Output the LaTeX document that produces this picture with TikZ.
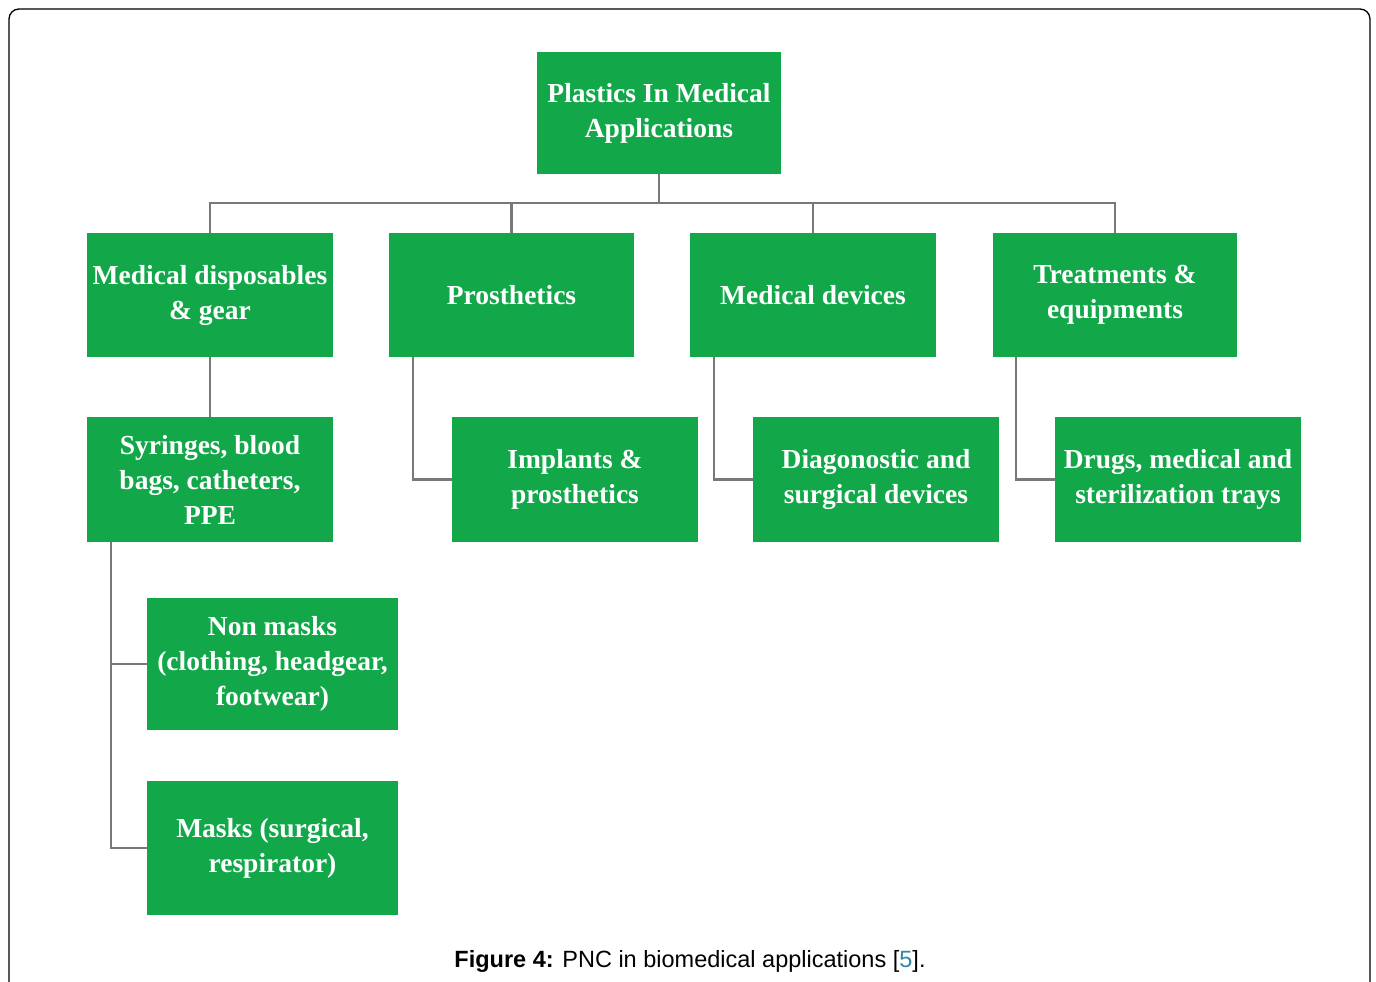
\documentclass[tikz,border=0pt]{standalone}
\usepackage{fontspec}
\setmainfont{Liberation Serif}
\newfontfamily\capfont{Liberation Sans}
\definecolor{boxgreen}{RGB}{18,168,74}
\definecolor{linegray}{RGB}{120,120,120}
\definecolor{reflink}{RGB}{46,134,160}
\begin{document}
\begin{tikzpicture}[x=1pt,y=-1pt,
  gbox/.style={fill=boxgreen,draw=none,text=white,align=center,inner sep=0pt,
    font=\fontsize{27.5}{35}\selectfont\bfseries},
  conn/.style={draw=linegray,line width=2.6pt}]
\useasboundingbox (0,0) rectangle (1376,982);
\draw[line width=1.3pt,rounded corners=10pt] (9,1010) -- (9,9) -- (1370,9) -- (1370,1010);
% nodes
\node[gbox,minimum width=244pt,minimum height=122pt] (top) at (659,113) {Plastics In Medical\\Applications};
\node[gbox,minimum width=246pt,minimum height=124pt] (A) at (210,295) {Medical disposables\\\& gear};
\node[gbox,minimum width=245pt,minimum height=124pt] (B) at (511.5,295) {Prosthetics};
\node[gbox,minimum width=246pt,minimum height=124pt] (C) at (813,295) {Medical devices};
\node[gbox,minimum width=244pt,minimum height=124pt] (D) at (1115,295) {Treatments \&\\equipments};
\node[gbox,minimum width=246pt,minimum height=125pt] (S) at (210,479.5) {Syringes, blood\\bags, catheters,\\PPE};
\node[gbox,minimum width=246pt,minimum height=125pt] (I) at (575,479.5) {Implants \&\\prosthetics};
\node[gbox,minimum width=246pt,minimum height=125pt] (G) at (876,479.5) {Diagonostic and\\surgical devices};
\node[gbox,minimum width=246pt,minimum height=125pt] (R) at (1178,479.5) {Drugs, medical and\\sterilization trays};
\node[gbox,minimum width=251pt,minimum height=132pt] (N) at (272.5,664) {Non masks\\(clothing, headgear,\\footwear)};
\node[gbox,minimum width=251pt,minimum height=134pt] (M) at (272.5,848) {Masks (surgical,\\respirator)};
% connectors
\coordinate (bar) at (0,203);
\draw[conn] (top.south) -- (top.south|-bar);
\draw[conn] (A.north) -- (A.north|-bar) -- (D.north|-bar) -- (D.north);
\draw[conn] (B.north|-bar) -- (B.north);
\draw[conn] (C.north|-bar) -- (C.north);
\draw[conn] (A.south) -- (S.north);
\draw[conn] ([xshift=24pt]B.south west) |- (I.west);
\draw[conn] ([xshift=24pt]C.south west) |- (G.west);
\draw[conn] ([xshift=23pt]D.south west) |- (R.west);
\draw[conn] ([xshift=24pt]S.south west) |- (N.west);
\draw[conn] ([xshift=24pt]S.south west) |- (M.west);
% caption
\node[font=\capfont\fontsize{23.5}{28}\selectfont,inner sep=0pt] (cap) at (690,961)
  {\textbf{Figure 4:} PNC in biomedical applications [{\color{reflink}5}].};
\end{tikzpicture}
\end{document}
